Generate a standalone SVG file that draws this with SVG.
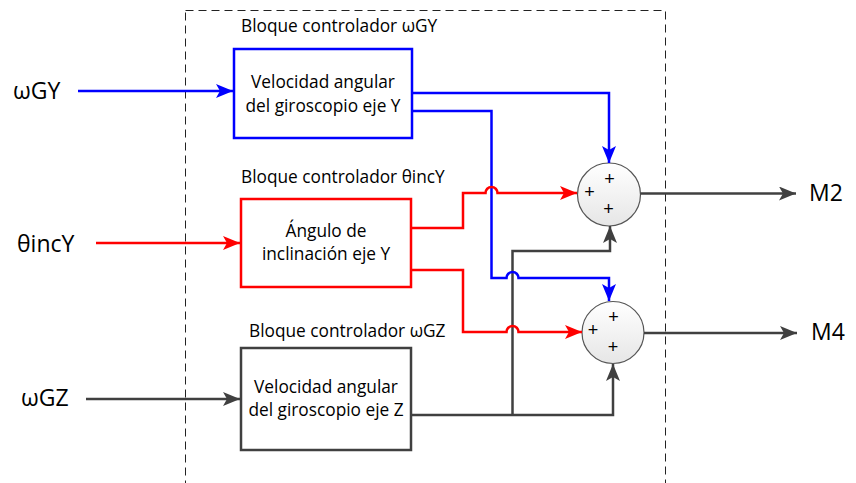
<svg xmlns="http://www.w3.org/2000/svg" width="856" height="483" viewBox="0 0 856 483">
<style>
.t{font-family:"Open Sans","Liberation Sans",sans-serif;fill:#000}
.h{font-size:17.3px}
.b{font-size:17.3px;text-anchor:middle}
.io{font-size:23px}
.p{font-family:"Liberation Sans",sans-serif;font-size:18px;text-anchor:middle;fill:#000}
.wire{fill:none;stroke-width:2.5;stroke-linejoin:miter}
.blue{stroke:#0000ff}
.red{stroke:#ff0000}
.gray{stroke:#404040}
.sum{fill:url(#g);stroke:#555;stroke-width:1.2}
</style>
<defs>
<linearGradient id="g" x1="0" y1="0" x2="0" y2="1">
<stop offset="0" stop-color="#ffffff"/>
<stop offset="1" stop-color="#e6e6e6"/>
</linearGradient>
<marker id="ab" markerUnits="userSpaceOnUse" markerWidth="18" markerHeight="16" refX="17" refY="7" orient="auto"><path d="M0,0 L17,7 L0,14 L4,7 Z" fill="#0000ff"/></marker>
<marker id="ar" markerUnits="userSpaceOnUse" markerWidth="18" markerHeight="16" refX="17" refY="7" orient="auto"><path d="M0,0 L17,7 L0,14 L4,7 Z" fill="#ff0000"/></marker>
<marker id="ag" markerUnits="userSpaceOnUse" markerWidth="18" markerHeight="16" refX="17" refY="7" orient="auto"><path d="M0,0 L17,7 L0,14 L4,7 Z" fill="#404040"/></marker>
</defs>
<rect x="0" y="0" width="856" height="483" fill="#fff"/>
<rect id="frame" x="185.5" y="10.5" width="480" height="500" fill="none" stroke="#222" stroke-width="1" stroke-dasharray="8,5"/>

<g id="in-wGY"><text class="t io" x="13" y="99">ωGY</text></g>
<g id="in-thetaincY"><text class="t io" x="17" y="252">θincY</text></g>
<g id="in-wGZ"><text class="t io" x="21" y="406">ωGZ</text></g>

<g id="ctrl-wGY">
<text class="t h" x="241" y="32">Bloque controlador ωGY</text>
<rect x="234" y="49" width="178" height="89" fill="#fff" stroke="#0000ff" stroke-width="2.5"/>
<text class="t b" x="323" y="88">Velocidad angular</text>
<text class="t b" x="323" y="112">del giroscopio eje Y</text>
</g>
<g id="ctrl-thetaincY">
<text class="t h" x="241" y="183">Bloque controlador θincY</text>
<rect x="241" y="199" width="170" height="88" fill="#fff" stroke="#ff0000" stroke-width="2.5"/>
<text class="t b" x="326" y="237">Ángulo de</text>
<text class="t b" x="326" y="260">inclinación eje Y</text>
</g>
<g id="ctrl-wGZ">
<text class="t h" x="249" y="337">Bloque controlador ωGZ</text>
<rect x="241" y="348" width="170" height="102" fill="#fff" stroke="#404040" stroke-width="2.5"/>
<text class="t b" x="326" y="393">Velocidad angular</text>
<text class="t b" x="326" y="416">del giroscopio eje Z</text>
</g>

<g id="sum-M2">
<circle class="sum" cx="609" cy="194.5" r="31.5"/>
<text class="p" x="609.5" y="185">+</text>
<text class="p" x="589.5" y="198">+</text>
<text class="p" x="608.5" y="214.5">+</text>
</g>
<g id="sum-M4">
<circle class="sum" cx="613" cy="332.5" r="31"/>
<text class="p" x="613.5" y="323">+</text>
<text class="p" x="593" y="335.5">+</text>
<text class="p" x="613" y="353">+</text>
</g>

<g id="out-M2"><text class="t io" x="809" y="201">M2</text></g>
<g id="out-M4"><text class="t io" x="811" y="340">M4</text></g>

<g id="connectors">
<path class="wire blue" d="M78,91 H233" marker-end="url(#ab)"/>
<path class="wire red" d="M96,243 H240" marker-end="url(#ar)"/>
<path class="wire gray" d="M86,399 H240" marker-end="url(#ag)"/>

<path class="wire blue" d="M412,93 H609 V163" marker-end="url(#ab)"/>
<path class="wire gray" d="M411,415 H613 V364" marker-end="url(#ag)"/>
<path class="wire gray" d="M512.5,415 V251 H610 V226" marker-end="url(#ag)"/>
<path class="wire blue" d="M412,111 H491.5 V278 H506.5 A6,6 0 0 1 518.5,278 H609 V301" marker-end="url(#ab)"/>
<path class="wire red" d="M411,228 H463 V193 H485.5 A6,6 0 0 1 497.5,193 H577" marker-end="url(#ar)"/>
<path class="wire red" d="M411,270 H463 V332 H506.5 A6,6 0 0 1 518.5,332 H582" marker-end="url(#ar)"/>

<path class="wire gray" d="M640.5,193.5 H796" marker-end="url(#ag)"/>
<path class="wire gray" d="M644,333 H797" marker-end="url(#ag)"/>
</g>
</svg>
